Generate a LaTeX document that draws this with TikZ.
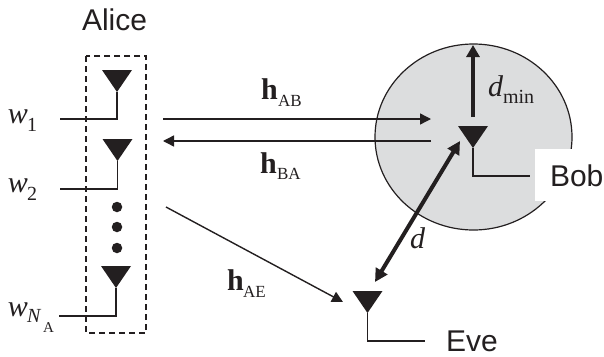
\documentclass[tikz,border=0pt]{standalone}
\usepackage{fontspec}
\setmainfont{Liberation Serif}
\newfontfamily\labsans{Liberation Sans}
\usetikzlibrary{arrows.meta,shapes.geometric}
\definecolor{ink}{HTML}{231F20}
\definecolor{disc}{HTML}{DCDDDE}
\newcommand{\bigsz}{\fontsize{30}{30}\selectfont}
\newcommand{\subsz}{\fontsize{20}{20}\selectfont}
\newcommand{\chsz}{\fontsize{17}{17}\selectfont}
\newcommand{\tinysz}{\fontsize{15}{15}\selectfont}
\tikzset{
  x=1pt,y=-1pt,
  every node/.style={text=ink,inner sep=0pt,outer sep=0pt},
  lab/.style={anchor=base west},
  name text/.style={lab,font=\labsans\bigsz},
  wire/.style={draw=ink,line width=1.4pt},
  thin arrow/.style={draw=ink,line width=1.4pt,-{Triangle[length=11pt,width=11pt]}},
  thick arrow/.style={draw=ink,line width=4pt},
  antenna/.style={draw=none,fill=ink,isosceles triangle,isosceles triangle stretches,
    shape border rotate=-90,minimum width=30pt,minimum height=22pt,anchor=apex},
  dotmark/.style={circle,fill=ink,minimum size=10.5pt},
}
\begin{document}
\begin{tikzpicture}
\useasboundingbox (0,0) rectangle (604,356);
% coverage disc and label patch
\node[ellipse,draw=ink,fill=disc,line width=1.2pt,minimum width=197pt,minimum height=186pt] (cover) at (473.5,137) {};
\fill[white] (535,149) rectangle (604,201);
% Alice array
\draw[ink,line width=1.4pt,dash pattern=on 6pt off 4pt] (86,56) rectangle (146,333);
\node[antenna] (a1) at (117,92) {};
\node[antenna] (a2) at (117.5,161) {};
\node[antenna] (a3) at (116,288) {};
\node[antenna] (bob) at (473,148) {};
\node[antenna] (eve) at (367.5,313) {};
\node[dotmark] (d1) at (117,207) {};
\node[dotmark] (d2) at (117,227) {};
\node[dotmark] (d3) at (117,248) {};
\coordinate (w1end) at (60,119);
\coordinate (w2end) at (60,189);
\coordinate (w3end) at (59,316);
\coordinate (bobend) at (530,176);
\coordinate (eveend) at (425,341);
\draw[wire] (a1.apex) |- (w1end);
\draw[wire] (a2.apex) |- (w2end);
\draw[wire] (a3.apex) |- (w3end);
\draw[wire] (bob.apex) |- (bobend);
\draw[wire] (eve.apex) |- (eveend);
% channels
\coordinate (abs) at (163,119);
\coordinate (abe) at (431,119);
\coordinate (bas) at (431,141);
\coordinate (bae) at (163,141);
\coordinate (aes) at (166,207);
\coordinate (aee) at (343,302);
\draw[thin arrow] (abs) -- (abe);
\draw[thin arrow] (bas) -- (bae);
\draw[thin arrow] (aes) -- (aee);
% distances
\coordinate (mins) at (473,117);
\coordinate (mine) at (473,45);
\coordinate (dA) at (460,141);
\coordinate (dB) at (375,282);
\draw[thick arrow,-{Triangle[length=12pt,width=13pt]}] (mins) -- (mine);
\draw[thick arrow,{Triangle[length=13pt,width=13pt]}-{Triangle[length=13pt,width=13pt]}] (dA) -- (dB);
% labels
\node[name text] (alice) at (82,30) {Alice};
\node[name text] (boblab) at (550,186) {Bob};
\node[name text] (evelab) at (446,351) {Eve};
\node[lab] (w1) at (8,123) {\bigsz\itshape w};
\node[lab] (w1s) at (27,131) {\subsz 1};
\node[lab] (w2) at (8,192) {\bigsz\itshape w};
\node[lab] (w2s) at (27,200) {\subsz 2};
\node[lab] (w3) at (8,316) {\bigsz\itshape w};
\node[lab] (w3s) at (27,322) {\subsz\itshape N};
\node[lab] (w3t) at (43,332) {\tinysz A};
\node[lab] (hab) at (261,99) {\bigsz\bfseries h};
\node[lab] (habs) at (278,106) {\chsz AB};
\node[lab] (hba) at (260,173) {\bigsz\bfseries h};
\node[lab] (hbas) at (277,179) {\chsz BA};
\node[lab] (hae) at (227,290) {\bigsz\bfseries h};
\node[lab] (haes) at (243,297) {\chsz AE};
\node[lab] (dl) at (410,248) {\bigsz\itshape d};
\node[lab] (dm) at (488,96) {\bigsz\itshape d};
\node[lab] (dms) at (503,103) {\subsz min};
\end{tikzpicture}
\end{document}
